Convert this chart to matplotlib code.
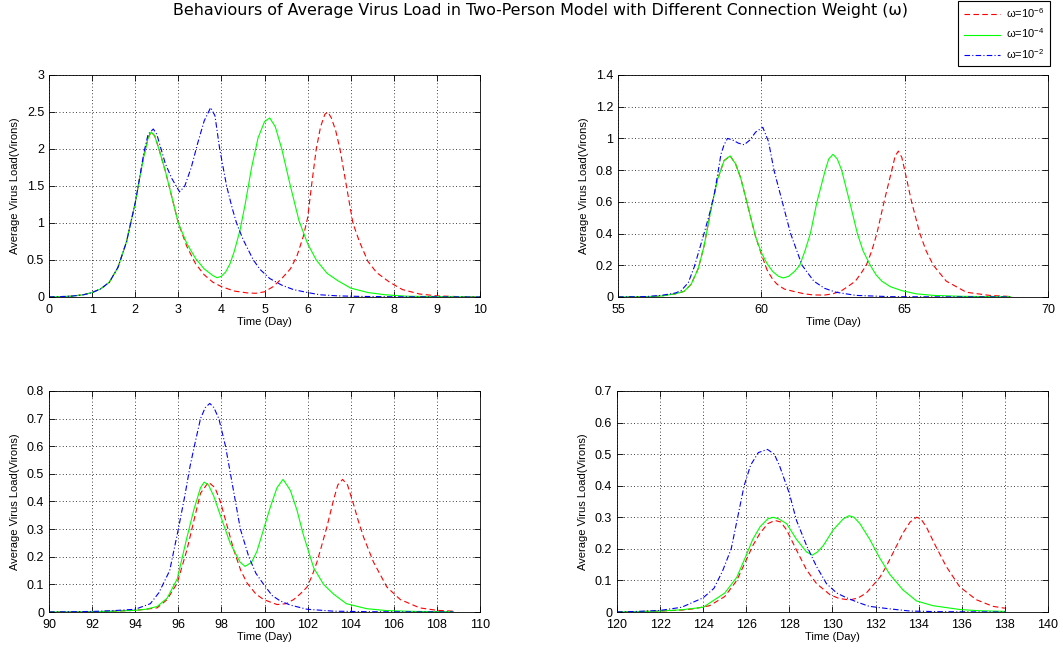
import numpy as np
import matplotlib
matplotlib.use("Agg")
import matplotlib.pyplot as plt
from matplotlib.ticker import FuncFormatter

plt.rcParams["font.family"] = ["Liberation Sans", "DejaVu Sans"]
plt.rcParams["mathtext.fontset"] = "custom"
plt.rcParams["mathtext.rm"] = "Liberation Sans"
plt.rcParams["mathtext.it"] = "Liberation Sans:italic"

labels = ["ω=10$^{-6}$", "ω=10$^{-4}$", "ω=10$^{-2}$"]

# panel 1: days 0-10
p1_red_t = [0, 0.5, 0.8, 1.0, 1.2, 1.4, 1.6, 1.8, 2.0, 2.1, 2.2, 2.3, 2.37, 2.45, 2.55, 2.7, 2.85, 3.0, 3.2, 3.4,
            3.6, 3.8, 4.0, 4.3, 4.6, 4.8, 5.0, 5.2, 5.4, 5.6, 5.75, 5.9, 6.0, 6.1, 6.2, 6.3, 6.4, 6.47, 6.55, 6.65,
            6.75, 6.9, 7.05, 7.2, 7.4, 7.6, 7.9, 8.2, 8.6, 9.0, 9.5, 10.0]
p1_red_v = [0, 0.01, 0.03, 0.06, 0.11, 0.2, 0.4, 0.75, 1.27, 1.6, 1.9, 2.15, 2.23, 2.18, 2.0, 1.7, 1.35, 1.0, 0.68, 0.45,
            0.3, 0.2, 0.14, 0.08, 0.055, 0.05, 0.07, 0.14, 0.25, 0.38, 0.55, 0.82, 1.07, 1.55, 2.0, 2.3, 2.47, 2.5, 2.42, 2.25,
            2.0, 1.5, 1.0, 0.75, 0.48, 0.33, 0.2, 0.1, 0.04, 0.015, 0.005, 0]
p1_grn_t = [0, 0.5, 0.8, 1.0, 1.2, 1.4, 1.6, 1.8, 2.0, 2.1, 2.2, 2.3, 2.37, 2.45, 2.55, 2.7, 2.85, 3.0, 3.2, 3.4,
            3.6, 3.8, 3.9, 4.0, 4.1, 4.2, 4.3, 4.43, 4.55, 4.7, 4.85, 5.0, 5.12, 5.25, 5.4, 5.6, 5.8, 6.0, 6.2, 6.45,
            6.7, 7.0, 7.4, 7.8, 8.3, 9.0, 10.0]
p1_grn_v = [0, 0.01, 0.03, 0.06, 0.11, 0.2, 0.4, 0.75, 1.27, 1.6, 1.9, 2.15, 2.23, 2.18, 2.0, 1.7, 1.35, 1.0, 0.72, 0.52,
            0.38, 0.29, 0.26, 0.28, 0.34, 0.45, 0.62, 0.9, 1.25, 1.75, 2.15, 2.37, 2.42, 2.3, 2.0, 1.5, 1.03, 0.72, 0.5, 0.32,
            0.22, 0.12, 0.06, 0.03, 0.01, 0.005, 0]
p1_blu_t = [0, 0.5, 0.8, 1.0, 1.2, 1.4, 1.6, 1.8, 2.0, 2.1, 2.2, 2.3, 2.42, 2.5, 2.6, 2.7, 2.85, 3.03, 3.15, 3.3,
            3.45, 3.6, 3.75, 3.85, 3.96, 4.05, 4.12, 4.25, 4.35, 4.5, 4.74, 4.9, 5.12, 5.4, 5.67, 6.0, 6.28, 6.7, 7.2, 8.0, 10.0]
p1_blu_v = [0, 0.01, 0.03, 0.06, 0.11, 0.2, 0.4, 0.75, 1.27, 1.6, 1.95, 2.2, 2.27, 2.2, 2.0, 1.8, 1.6, 1.42, 1.5, 1.75,
            2.08, 2.38, 2.56, 2.45, 2.0, 1.72, 1.5, 1.2, 1.0, 0.78, 0.5, 0.37, 0.25, 0.16, 0.1, 0.06, 0.03, 0.015, 0.008, 0.003, 0]

# panel 2: days 55-70
p2_red_t = [55, 56, 56.5, 57, 57.3, 57.55, 57.8, 58.0, 58.24, 58.47, 58.7, 58.91, 59.1, 59.28, 59.45, 59.63, 59.8, 60.0,
            60.2, 60.4, 60.55, 60.8, 61.13, 61.5, 61.8, 62.2, 62.5, 62.8, 63.05, 63.28, 63.48, 63.66, 63.85, 64.03, 64.28,
            64.55, 64.67, 64.78, 64.9, 65.0, 65.24, 65.53, 65.75, 66.0, 66.45, 67.15, 67.96, 68.7]
p2_red_v = [0, 0.002, 0.006, 0.02, 0.035, 0.08, 0.18, 0.32, 0.55, 0.74, 0.86, 0.89, 0.84, 0.75, 0.63, 0.5, 0.38, 0.27,
            0.17, 0.11, 0.08, 0.05, 0.035, 0.02, 0.013, 0.012, 0.02, 0.04, 0.07, 0.1, 0.15, 0.2, 0.29, 0.4, 0.6,
            0.8, 0.89, 0.92, 0.88, 0.8, 0.6, 0.4, 0.29, 0.2, 0.1, 0.03, 0.01, 0.003]
p2_grn_t = [55, 56, 56.5, 57, 57.3, 57.55, 57.8, 58.0, 58.24, 58.47, 58.7, 58.91, 59.1, 59.28, 59.45, 59.63, 59.8, 60.0,
            60.2, 60.4, 60.6, 60.76, 60.95, 61.15, 61.34, 61.52, 61.71, 61.94, 62.23, 62.35, 62.5, 62.65, 62.8, 63.08,
            63.35, 63.55, 63.8, 64.0, 64.2, 64.5, 64.9, 65.4, 66.0, 67.0, 68.7]
p2_grn_v = [0, 0.002, 0.006, 0.02, 0.035, 0.08, 0.18, 0.32, 0.55, 0.74, 0.86, 0.89, 0.84, 0.75, 0.63, 0.5, 0.38, 0.28,
            0.21, 0.16, 0.13, 0.12, 0.13, 0.16, 0.2, 0.29, 0.4, 0.6, 0.8, 0.87, 0.9, 0.87, 0.8, 0.6,
            0.4, 0.29, 0.2, 0.14, 0.1, 0.065, 0.04, 0.02, 0.01, 0.004, 0.001]
p2_blu_t = [55, 56, 56.5, 57.0, 57.2, 57.45, 57.66, 58.0, 58.2, 58.36, 58.5, 58.59, 58.7, 58.82, 59.0, 59.2, 59.4, 59.6,
            59.8, 60.05, 60.25, 60.44, 60.73, 61.02, 61.42, 61.83, 62.2, 62.6, 63.3, 64.5, 66.0, 68.7]
p2_blu_v = [0, 0.003, 0.01, 0.025, 0.04, 0.09, 0.19, 0.4, 0.53, 0.65, 0.8, 0.9, 0.96, 1.0, 0.99, 0.97, 0.96, 0.99,
            1.04, 1.07, 0.98, 0.8, 0.6, 0.4, 0.2, 0.1, 0.055, 0.03, 0.01, 0.002, 0.001, 0]

# panel 3: days 90-110
p3_red_t = [90, 92, 93, 94, 94.5, 95.02, 95.48, 95.95, 96.4, 96.72, 97.03, 97.4, 97.7, 97.95, 98.2, 98.57, 98.9, 99.19,
            99.6, 99.96, 100.58, 101.0, 101.35, 101.65, 101.97, 102.2, 102.43, 102.65, 102.9, 103.2, 103.4, 103.62,
            103.85, 104.13, 104.35, 104.6, 105.06, 105.68, 106.3, 107.2, 108.0, 108.76]
p3_red_v = [0, 0.001, 0.003, 0.006, 0.01, 0.015, 0.045, 0.105, 0.225, 0.33, 0.43, 0.47, 0.45, 0.4, 0.33, 0.225, 0.15, 0.105,
            0.065, 0.045, 0.027, 0.03, 0.045, 0.065, 0.09, 0.13, 0.18, 0.24, 0.31, 0.405, 0.46, 0.48,
            0.46, 0.39, 0.33, 0.27, 0.18, 0.09, 0.045, 0.015, 0.006, 0.003]
p3_grn_t = [90, 92, 93, 94, 94.5, 95.02, 95.48, 95.95, 96.4, 96.72, 97.03, 97.2, 97.4, 97.64, 97.95, 98.4, 98.87, 99.1,
            99.4, 99.65, 99.96, 100.27, 100.58, 100.86, 101.2, 101.5, 101.8, 102.28, 102.74, 103.2, 103.8, 104.74,
            105.68, 107.0, 108.76]
p3_grn_v = [0, 0.001, 0.003, 0.006, 0.01, 0.02, 0.05, 0.12, 0.27, 0.37, 0.45, 0.47, 0.46, 0.42, 0.35, 0.25, 0.18, 0.165,
            0.18, 0.22, 0.3, 0.38, 0.45, 0.48, 0.44, 0.37, 0.28, 0.16, 0.1, 0.065, 0.03, 0.012,
            0.005, 0.002, 0.001]
p3_blu_t = [90, 92, 93, 94, 94.7, 95.1, 95.6, 96.0, 96.3, 96.55, 96.8, 97.03, 97.25, 97.46, 97.65, 97.88, 98.19, 98.42,
            98.65, 98.88, 99.27, 99.6, 99.96, 100.35, 100.73, 101.2, 101.97, 103.2, 105.0, 108.76]
p3_blu_v = [0, 0.002, 0.005, 0.01, 0.03, 0.07, 0.15, 0.3, 0.42, 0.53, 0.62, 0.7, 0.74, 0.755, 0.74, 0.7, 0.6, 0.5,
            0.4, 0.3, 0.2, 0.14, 0.1, 0.06, 0.04, 0.025, 0.01, 0.003, 0.001, 0]

# panel 4: days 120-140
p4_red_t = [120, 122, 123, 123.55, 124.3, 125.0, 125.56, 126.0, 126.3, 126.64, 127.0, 127.33, 127.6, 127.87, 128.33,
            128.8, 129.26, 129.88, 130.3, 130.8, 131.2, 131.57, 132.2, 132.5, 132.8, 133.27, 133.6, 133.9, 134.1,
            134.35, 134.8, 135.28, 135.9, 136.67, 137.44, 138.0]
p4_red_v = [0, 0.003, 0.006, 0.01, 0.02, 0.049, 0.1, 0.165, 0.21, 0.25, 0.28, 0.29, 0.285, 0.26, 0.196,
            0.133, 0.09, 0.055, 0.043, 0.038, 0.045, 0.06, 0.11, 0.145, 0.186, 0.25, 0.285, 0.3, 0.295,
            0.27, 0.207, 0.144, 0.08, 0.039, 0.018, 0.012]
p4_grn_t = [120, 122, 123, 124, 125.0, 125.56, 126.0, 126.3, 126.64, 127.0, 127.25, 127.5, 127.87, 128.33, 128.8,
            129.06, 129.3, 129.57, 130.03, 130.5, 130.77, 131.0, 131.27, 131.73, 132.2, 132.65, 133.27, 133.9,
            134.66, 135.9, 136.8, 138.0]
p4_grn_v = [0, 0.003, 0.007, 0.015, 0.06, 0.11, 0.18, 0.23, 0.27, 0.295, 0.3, 0.295, 0.28, 0.23, 0.19,
            0.18, 0.19, 0.21, 0.26, 0.295, 0.305, 0.3, 0.28, 0.23, 0.17, 0.12, 0.07, 0.035,
            0.02, 0.008, 0.004, 0.002]
p4_blu_t = [120, 121, 122, 123, 124, 124.5, 124.9, 125.3, 125.6, 125.9, 126.2, 126.56, 126.98, 127.3, 127.56, 128.0,
            128.33, 128.8, 129.26, 129.72, 130.2, 130.65, 131.2, 131.7, 132.65, 133.6, 135.0, 138.0]
p4_blu_v = [0, 0.002, 0.005, 0.015, 0.045, 0.075, 0.13, 0.2, 0.3, 0.4, 0.465, 0.505, 0.515, 0.5, 0.46, 0.375,
            0.29, 0.21, 0.144, 0.09, 0.06, 0.045, 0.03, 0.018, 0.01, 0.003, 0.001, 0]

panels = [
    dict(rect=[0.0461, 0.5438, 0.4055, 0.341], xlim=(0, 10), xstep=1, ylim=(0, 3), ystep=0.5,
         red=(p1_red_t, p1_red_v), grn=(p1_grn_t, p1_grn_v), blu=(p1_blu_t, p1_blu_v)),
    dict(rect=[0.5814, 0.5438, 0.4045, 0.341], xlim=(55, 70), xstep=5, ylim=(0, 1.4), ystep=0.2,
         red=(p2_red_t, p2_red_v), grn=(p2_grn_t, p2_grn_v), blu=(p2_blu_t, p2_blu_v)),
    dict(rect=[0.0461, 0.0599, 0.4055, 0.3395], xlim=(90, 110), xstep=2, ylim=(0, 0.8), ystep=0.1,
         red=(p3_red_t, p3_red_v), grn=(p3_grn_t, p3_grn_v), blu=(p3_blu_t, p3_blu_v)),
    dict(rect=[0.5804, 0.0599, 0.4055, 0.3395], xlim=(120, 140), xstep=2, ylim=(0, 0.7), ystep=0.1,
         red=(p4_red_t, p4_red_v), grn=(p4_grn_t, p4_grn_v), blu=(p4_blu_t, p4_blu_v)),
]

fmt = FuncFormatter(lambda v, _: "%g" % round(v, 6))

fig = plt.figure(figsize=(10.63, 6.51), dpi=100)
handles = None
for p in panels:
    ax = fig.add_axes(p["rect"])
    h1, = ax.plot(*p["red"], color="#ff0000", lw=0.8, dashes=(5, 3))
    h2, = ax.plot(*p["grn"], color="#00ff00", lw=0.8)
    h3, = ax.plot(*p["blu"], color="#0000ff", lw=0.8, dashes=(5, 2, 1, 2))
    handles = [h1, h2, h3]
    ax.set_xlim(p["xlim"]); ax.set_ylim(p["ylim"])
    ax.set_xticks(np.arange(p["xlim"][0], p["xlim"][1] + 1e-9, p["xstep"]))
    ax.set_yticks(np.arange(p["ylim"][0], p["ylim"][1] + 1e-9, p["ystep"]))
    ax.xaxis.set_major_formatter(fmt); ax.yaxis.set_major_formatter(fmt)
    ax.grid(True, color="black", linestyle=(0, (1, 3)), lw=0.6)
    ax.tick_params(direction="in", top=True, right=True, labelsize=9, length=4, width=0.6)
    ax.tick_params(axis="x", pad=5)
    for s in ax.spines.values():
        s.set_linewidth(0.6)
    ax.set_xlabel("Time (Day)", fontsize=8, labelpad=1)
    ax.set_ylabel("Average Virus Load(Virons)", fontsize=8, labelpad=5)

fig.text(0.508, 0.984, "Behaviours of Average Virus Load in Two-Person Model with Different Connection Weight (ω)",
         ha="center", va="center", fontsize=11.4, family=["DejaVu Sans"])
leg = fig.legend(handles, labels, loc="upper right", bbox_to_anchor=(0.9878, 0.999), fontsize=8,
                 fancybox=False, edgecolor="black", framealpha=1, handlelength=3.2, labelspacing=0.6,
                 borderpad=0.5, handletextpad=0.6, borderaxespad=0)
leg.get_frame().set_linewidth(0.8)

fig.savefig("out.png", dpi=100)
